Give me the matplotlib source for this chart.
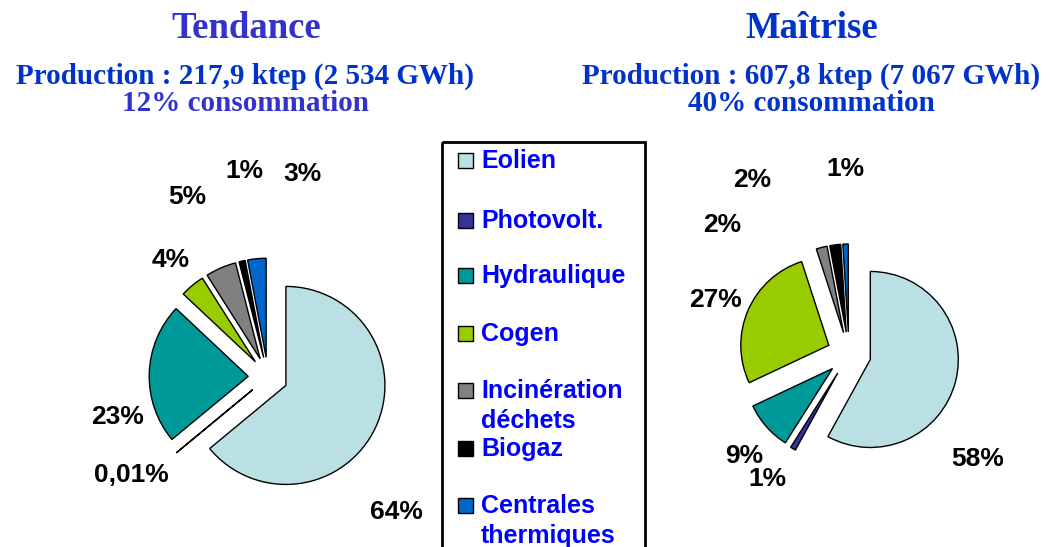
import matplotlib.pyplot as plt

W, H = 1050, 547

sources = ['Eolien', 'Photovolt.', 'Hydraulique', 'Cogen',
           'Incinération\ndéchets', 'Biogaz', 'Centrales\nthermiques']
colors = ['#BBE0E3', '#333399', '#009999', '#99CC00', '#808080', '#000000', '#0066CC']

tendance = [64, 0.01, 23, 4, 5, 1, 3]
tendance_labels = ['64%', '0,01%', '23%', '4%', '5%', '1%', '3%']
maitrise = [58, 1, 9, 27, 2, 2, 1]
maitrise_labels = ['58%', '1%', '9%', '27%', '2%', '2%', '1%']

# label positions in pixels (x, y from top)
tendance_pos = [(396, 512), (131, 475), (118, 417), (171, 260), (187, 197), (244, 171), (302, 174)]
maitrise_pos = [(978, 459), (767, 479), (744, 456), (715, 300), (722, 225), (752, 180), (845, 169)]

fig = plt.figure(figsize=(W / 100, H / 100), dpi=100)
fig.patch.set_facecolor('white')


def px(x, y):
    return x / W, 1 - y / H


def draw_pie(values, cx, cy, r, explode):
    lim = 1.5
    size = 2 * lim * r
    ax = fig.add_axes([(cx - size / 2) / W, (H - cy - size / 2) / H, size / W, size / H])
    ax.pie(values, colors=colors, startangle=90, counterclock=False,
           explode=[explode] * len(values),
           wedgeprops=dict(edgecolor='black', linewidth=1.0))
    ax.set_xlim(-lim, lim)
    ax.set_ylim(-lim, lim)
    ax.axis('off')
    return ax


draw_pie(tendance, 268, 377, 99, 0.2)
draw_pie(maitrise, 849, 354, 88, 0.25)

for lab, (x, y) in zip(tendance_labels, tendance_pos):
    fig.text(*px(x, y), lab, ha='center', va='center', fontsize=19,
             fontweight='bold', family='Liberation Sans', color='black')
for lab, (x, y) in zip(maitrise_labels, maitrise_pos):
    fig.text(*px(x, y), lab, ha='center', va='center', fontsize=19,
             fontweight='bold', family='Liberation Sans', color='black')

# titles
serif = 'Liberation Serif'
fig.text(*px(246, 29), 'Tendance', ha='center', va='center', fontsize=26.5,
         fontweight='bold', family=serif, color='#3333CC')
fig.text(*px(245, 76), 'Production : 217,9 ktep (2 534 GWh)', ha='center', va='center',
         fontsize=21, fontweight='bold', family=serif, color='#0033CC')
fig.text(*px(245, 104), '12% consommation', ha='center', va='center',
         fontsize=21, fontweight='bold', family=serif, color='#3333CC')
fig.text(*px(812, 29), 'Maîtrise', ha='center', va='center', fontsize=26.5,
         fontweight='bold', family=serif, color='#0033CC')
fig.text(*px(811, 76), 'Production : 607,8 ktep (7 067 GWh)', ha='center', va='center',
         fontsize=21, fontweight='bold', family=serif, color='#0033CC')
fig.text(*px(811, 104), '40% consommation', ha='center', va='center',
         fontsize=21, fontweight='bold', family=serif, color='#0033CC')

# legend box
lax = fig.add_axes([0, 0, 1, 1])
lax.set_xlim(0, W)
lax.set_ylim(H, 0)
lax.axis('off')
lax.add_patch(plt.Rectangle((442, 142), 203, 420, fill=False, edgecolor='black',
                            linewidth=2, clip_on=False))
item_y = [160, 220, 275, 333, 390, 448, 505]
for name, col, y in zip(sources, colors, item_y):
    lax.add_patch(plt.Rectangle((458, y - 7.5), 15, 15, facecolor=col,
                                edgecolor='black', linewidth=1))
    lax.text(481, y - 11, name, ha='left', va='top', fontsize=18,
             fontweight='bold', family='Liberation Sans', color='#0000FF',
             linespacing=1.32)

fig.savefig('out.png', dpi=100, facecolor='white')
